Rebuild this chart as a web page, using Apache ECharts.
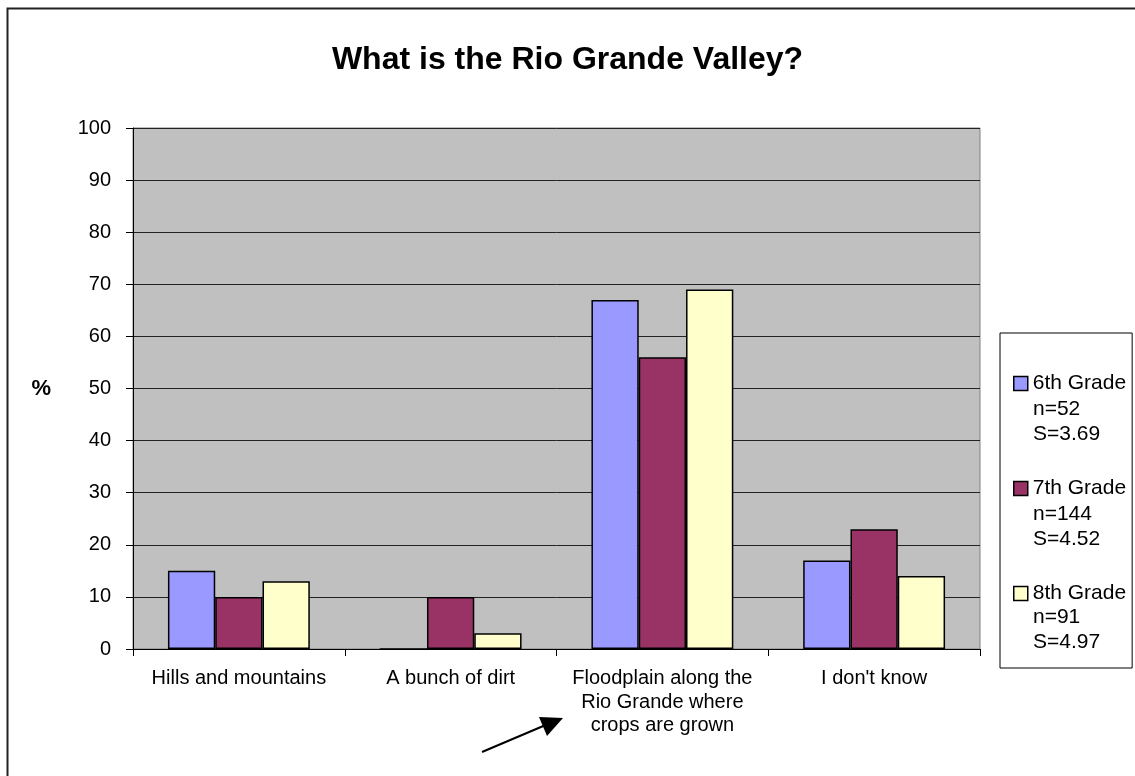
<!DOCTYPE html>
<html>
<head>
<meta charset="utf-8">
<script src="https://cdn.jsdelivr.net/npm/echarts@6/dist/echarts.min.js"></script>
<style>
  html, body { margin: 0; padding: 0; background: #fff; }
  #chart { width: 1135px; height: 776px; }
</style>
</head>
<body>
<div id="chart"></div>
<script>
// data
var categories = ['Hills and mountains', 'A bunch of dirt', 'Floodplain along the\nRio Grande where\ncrops are grown', "I don't know"];
var grades = ['6th Grade', '7th Grade', '8th Grade'];
var gradeNotes = ['n=52\nS=3.69', 'n=144\nS=4.52', 'n=91\nS=4.97'];
var sixth = [15, 0, 67, 17];
var seventh = [10, 10, 56, 23];
var eighth = [13, 3, 69, 14];
var yTicks = { min: 0, max: 100, interval: 10 };

var font = "'Liberation Sans', Arial, sans-serif";
var colors = ['#9999FF', '#993366', '#FFFFCC'];

var myChart = echarts.init(document.getElementById('chart'));

function barSeries(name, data, i) {
  return {
    name: name,
    type: 'bar',
    data: data,
    barGap: '0%',
    barCategoryGap: '33%',
    itemStyle: { color: colors[i], borderColor: '#000', borderWidth: 1.5 }
  };
}

// extra legend lines (n and S) under each grade name
var noteTexts = gradeNotes.map(function (t, i) {
  return {
    type: 'text',
    left: 1033,
    top: [397, 502, 605][i],
    style: { text: t, font: '21px ' + font, fill: '#000', lineHeight: 25 }
  };
});

var option = {
  animation: false,
  backgroundColor: '#fff',
  title: {
    text: 'What is the Rio Grande Valley?',
    left: 'center',
    top: 39,
    textStyle: { fontFamily: font, fontSize: 32, fontWeight: 'bold', color: '#000' }
  },
  legend: {
    orient: 'vertical',
    left: 1000,
    top: 333,
    padding: [40, 6, 64, 13],
    data: grades,
    icon: 'rect',
    itemWidth: 14,
    itemHeight: 14,
    itemGap: 84,
    borderColor: '#000',
    borderWidth: 1,
    itemStyle: { borderColor: '#000', borderWidth: 1.5 },
    textStyle: { fontFamily: font, fontSize: 21, color: '#000', lineHeight: 20 }
  },
  grid: {
    left: 133, right: 155, top: 128, bottom: 127,
    show: true,
    backgroundColor: '#C0C0C0',
    borderColor: '#808080',
    borderWidth: 1
  },
  xAxis: {
    type: 'category',
    data: categories,
    axisLine: { lineStyle: { color: '#000', width: 1 } },
    axisTick: { show: true, length: 7, inside: false, lineStyle: { color: '#000' } },
    axisLabel: {
      interval: 0, margin: 18, color: '#000',
      fontFamily: font, fontSize: 20, lineHeight: 23.5, align: 'center'
    }
  },
  yAxis: {
    type: 'value',
    min: yTicks.min, max: yTicks.max, interval: yTicks.interval,
    name: '%',
    nameLocation: 'middle',
    nameRotate: 0,
    nameGap: 82,
    nameTextStyle: { fontFamily: font, fontSize: 22, fontWeight: 'bold', color: '#000' },
    axisLine: { show: true, lineStyle: { color: '#000', width: 1 } },
    axisTick: { show: true, length: 7, lineStyle: { color: '#000' } },
    axisLabel: { margin: 22, color: '#000', fontFamily: font, fontSize: 20 },
    splitLine: { show: true, lineStyle: { color: '#222', width: 1 } }
  },
  series: [
    barSeries(grades[0], sixth, 0),
    barSeries(grades[1], seventh, 1),
    barSeries(grades[2], eighth, 2)
  ],
  graphic: [
    // outer chart frame (left and top edges are visible)
    {
      type: 'rect', silent: true,
      shape: { x: 7.5, y: 8.5, width: 1200, height: 800 },
      style: { fill: 'none', stroke: '#222', lineWidth: 2 }
    },
    // arrow pointing at the correct answer
    {
      type: 'line', silent: true,
      shape: { x1: 482, y1: 752, x2: 548, y2: 724 },
      style: { stroke: '#000', lineWidth: 2 }
    },
    {
      type: 'polygon', silent: true,
      shape: { points: [[539, 717], [563, 718], [547, 736]] },
      style: { fill: '#000' }
    }
  ].concat(noteTexts)
};

myChart.setOption(option);
</script>
</body>
</html>
